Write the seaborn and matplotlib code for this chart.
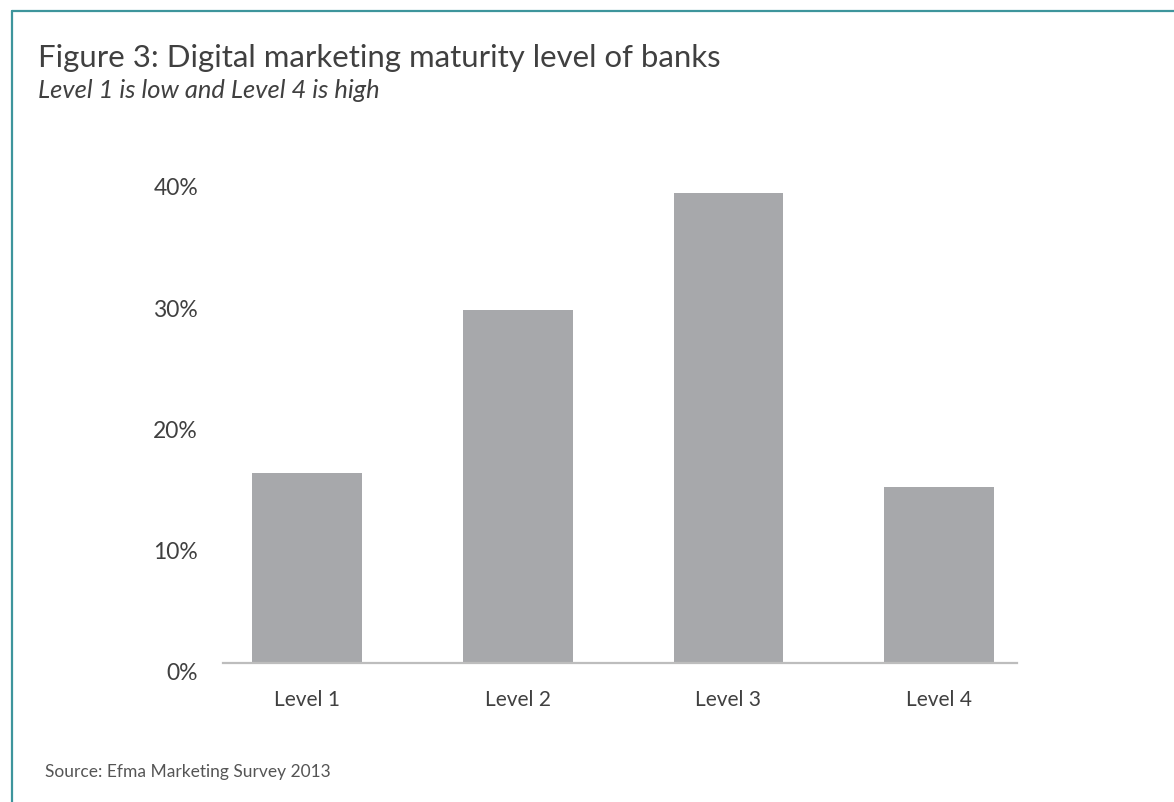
import matplotlib
matplotlib.use("Agg")
import matplotlib.pyplot as plt
import matplotlib.transforms as mtransforms
from matplotlib.lines import Line2D
import seaborn as sns
import pandas as pd

categories = ["Level 1", "Level 2", "Level 3", "Level 4"]
values = [15.7, 29.1, 38.8, 14.5]
yticks = [0, 10, 20, 30, 40]
ytick_labels = ["0%", "10%", "20%", "30%", "40%"]

title = "Figure 3: Digital marketing maturity level of banks"
subtitle = "Level 1 is low and Level 4 is high"
source = "Source: Efma Marketing Survey 2013"

sns.set_theme(style="white")
plt.rcParams["font.family"] = ["Lato", "DejaVu Sans"]

text_color = "#404040"
bar_color = "#A7A8AB"
teal = "#3E959C"

W, H = 1174, 803
fig = plt.figure(figsize=(W / 100, H / 100), dpi=100)
ax = fig.add_axes([223 / W, 1 - 664 / H, (1017 - 223) / W, (664 - 179) / H])

df = pd.DataFrame({"level": categories, "pct": values})
sns.barplot(data=df, x="level", y="pct", color=bar_color, width=0.52,
            saturation=1, ax=ax, edgecolor="none")

ax.set_xlim(-0.4, 3.37)
ax.set_ylim(0, 40)
ax.set_xlabel("")
ax.set_ylabel("")
for s in ["top", "right", "left"]:
    ax.spines[s].set_visible(False)
ax.spines["bottom"].set_color("#BDBDBD")
ax.spines["bottom"].set_linewidth(1.6)

ax.set_yticks(yticks)
ax.set_yticklabels(ytick_labels)
ax.tick_params(axis="y", length=0, pad=18, labelsize=16.5, labelcolor=text_color)
ax.tick_params(axis="x", length=0, pad=19, labelsize=15, labelcolor=text_color)
offset = mtransforms.ScaledTranslation(0, -8 / 100, fig.dpi_scale_trans)
for lab in ax.get_yticklabels():
    lab.set_transform(lab.get_transform() + offset)

fig.text(38 / W, 1 - 67 / H, title, fontsize=22.4, color=text_color, va="baseline", ha="left")
fig.text(38 / W, 1 - 98 / H, subtitle, fontsize=18.4, color=text_color, style="italic",
         va="baseline", ha="left")
fig.text(45 / W, 1 - 777 / H, source, fontsize=12.5, color="#555555", va="baseline", ha="left")

fig.add_artist(Line2D([11.5 / W, 1], [1 - 11.5 / H, 1 - 11.5 / H], color=teal, lw=1.6,
                      transform=fig.transFigure))
fig.add_artist(Line2D([11.5 / W, 11.5 / W], [0, 1 - 11.5 / H], color=teal, lw=1.6,
                      transform=fig.transFigure))

fig.savefig("out.png", dpi=100)
